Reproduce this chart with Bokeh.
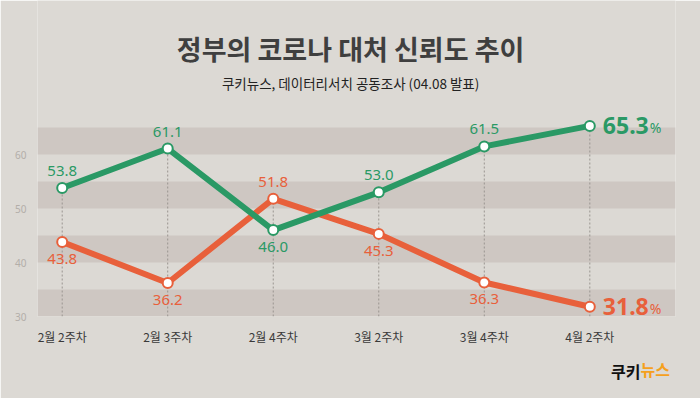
from bokeh.plotting import figure
from bokeh.models import ColumnDataSource, Label, BoxAnnotation, FixedTicker
from bokeh.embed import file_html
from bokeh.resources import INLINE

# ---- data ----
categories = ["2월 2주차", "2월 3주차", "2월 4주차", "3월 2주차", "3월 4주차", "4월 2주차"]
trust = [53.8, 61.1, 46.0, 53.0, 61.5, 65.3]      # green
distrust = [43.8, 36.2, 51.8, 45.3, 36.3, 31.8]   # orange
y_ticks = [30, 40, 50, 60]
band_starts = [30, 40, 50, 60]
band_width = 5
title_text = "정부의 코로나 대처 신뢰도 추이"
subtitle_text = "쿠키뉴스, 데이터리서치 공동조사 (04.08 발표)"

GREEN = "#2a9965"
ORANGE = "#e8603b"
BG = "#dcd9d4"
BAND = "#cec7c2"

xs = list(range(len(categories)))

p = figure(width=700, height=398, output_backend="svg", toolbar_location=None,
           x_range=(-0.234, 5.812), y_range=(30, 88.52),
           min_border_left=37, min_border_right=25, min_border_top=0, min_border_bottom=82)
p.background_fill_color = BG
p.border_fill_color = BG
p.outline_line_color = None
p.grid.grid_line_color = None

for b in band_starts:
    p.add_layout(BoxAnnotation(bottom=b, top=b + band_width, fill_color=BAND, fill_alpha=1,
                               line_color=None, level="underlay"))

# axes
p.yaxis.ticker = FixedTicker(ticks=y_ticks)
p.yaxis.axis_line_color = None
p.yaxis.major_tick_line_color = None
p.yaxis.minor_tick_line_color = None
p.yaxis.major_label_text_color = "#b3aea9"
p.yaxis.major_label_text_font = "Noto Sans"
p.yaxis.major_label_text_font_size = "10px"
p.yaxis.major_label_standoff = 5

p.xaxis.ticker = FixedTicker(ticks=xs)
p.xaxis.major_label_overrides = {i: c for i, c in zip(xs, categories)}
p.xaxis.axis_line_color = None
p.xaxis.major_tick_line_color = None
p.xaxis.minor_tick_line_color = None
p.xaxis.major_label_text_color = "#3a3a3a"
p.xaxis.major_label_text_font = "Noto Sans CJK KR"
p.xaxis.major_label_text_font_size = "12px"
p.xaxis.major_label_standoff = 5

# dotted drop lines
tops = [max(a, b) for a, b in zip(trust, distrust)]
src_drop = ColumnDataSource(dict(x=xs, y0=[30] * len(xs), y1=tops))
p.segment(x0="x", y0="y0", x1="x", y1="y1", source=src_drop, line_color="#9a9590",
          line_width=1, line_dash="2 2")

# lines and markers
for vals, col in ((distrust, ORANGE), (trust, GREEN)):
    p.line(xs, vals, line_color=col, line_width=6, line_join="round")
    p.scatter(xs, vals, size=10, fill_color="white", line_color=col, line_width=2)

# value labels
green_pos = ["above", "above", "below", "above", "above"]
orange_pos = ["below", "below", "above", "below", "below"]
for vals, col, pos in ((trust, GREEN, green_pos), (distrust, ORANGE, orange_pos)):
    for i in range(len(vals) - 1):
        up = pos[i] == "above"
        p.add_layout(Label(x=xs[i], y=vals[i], text=f"{vals[i]:.1f}",
                           text_color=col, text_font="Noto Sans",
                           text_font_size="15px", text_align="center",
                           text_baseline="middle", y_offset=17 if up else -17))

# final big labels
for vals, col in ((trust, GREEN), (distrust, ORANGE)):
    last = len(vals) - 1
    p.add_layout(Label(x=xs[last], y=vals[last], text=f"{vals[last]:.1f}",
                       text_color=col, text_font="Noto Sans", text_font_style="bold",
                       text_font_size="23px", text_align="left", text_baseline="middle",
                       x_offset=13, y_offset=0))
    p.add_layout(Label(x=xs[last], y=vals[last], text="%",
                       text_color=col, text_font="Noto Sans",
                       text_font_size="14px", text_align="left", text_baseline="middle",
                       x_offset=60, y_offset=-2))

# title / subtitle
p.add_layout(Label(x=2.733, y=79.63, text=title_text, text_color="#3f3f3f",
                   text_font="Noto Sans CJK KR", text_font_style="bold",
                   text_font_size="27px", text_align="center", text_baseline="middle"))
p.add_layout(Label(x=2.733, y=73.15, text=subtitle_text, text_color="#222222",
                   text_font="Noto Sans CJK KR",
                   text_font_size="13.5px", text_align="center", text_baseline="middle"))

# logo in the bottom panel
p.add_layout(Label(x=603, y=1, x_units="screen", y_units="screen", text="쿠키",
                   text_color="#111111",
                   text_font="Noto Sans CJK KR", text_font_style="bold",
                   text_font_size="16px", text_align="right", text_baseline="middle"), "below")
p.add_layout(Label(x=603, y=27, x_units="screen", y_units="screen", text="뉴스",
                   text_color="#f5a01e",
                   text_font="Noto Sans CJK KR", text_font_style="bold",
                   text_font_size="16px", text_align="left", text_baseline="middle"), "below")

open("out.html", "w").write(file_html(p, INLINE))
